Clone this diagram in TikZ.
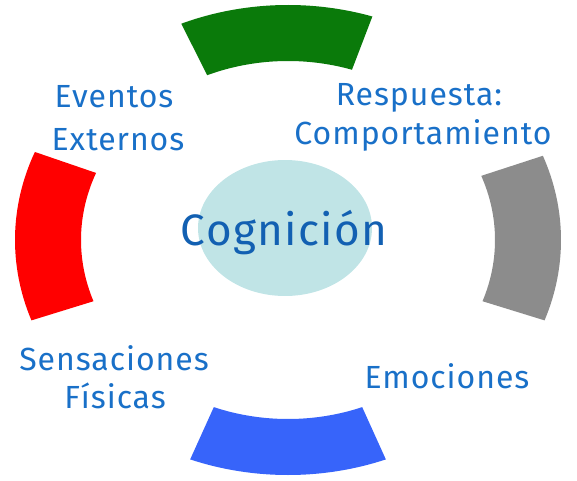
\documentclass[tikz,border=0pt]{standalone}
\usepackage{fontspec}
\setmainfont{Fira Sans}
\newfontfamily\lblfont[LetterSpace=3]{Fira Sans}
\usetikzlibrary{calc,shapes.geometric}
\definecolor{txtblue}{RGB}{25,112,200}
\definecolor{cogblue}{RGB}{18,96,178}
\definecolor{segred}{RGB}{255,0,0}
\definecolor{seggreen}{RGB}{10,122,10}
\definecolor{seggray}{RGB}{140,140,140}
\definecolor{segblue}{RGB}{55,100,250}
\definecolor{cogfill}{RGB}{192,228,230}
\tikzset{
  lbl/.style={text=txtblue, font=\lblfont\fontsize{32}{36}\selectfont, inner sep=0pt, anchor=base},
}
\newcommand{\ringseg}[3]{%
  \fill[#1] ($(C)+(#2:273pt and 235pt)$) arc[start angle=#2, end angle=#3, x radius=273pt, y radius=235pt]
    -- ($(C)+(#3:207pt and 179pt)$) arc[start angle=#3, end angle=#2, x radius=207pt, y radius=179pt] -- cycle;}
\begin{document}
\begin{tikzpicture}[x=1pt,y=1pt]
\useasboundingbox (0,0) rectangle (577,480);
\coordinate (C) at (288,240);
\ringseg{seggreen}{72}{113}
\ringseg{seggray}{-20}{21}
\ringseg{segred}{158}{200}
\ringseg{segblue}{249}{291}
\node[ellipse, fill=cogfill, minimum width=174pt, minimum height=136pt, inner sep=0pt] (cog) at (285,252) {};
\node[text=cogblue, font=\lblfont\fontsize{44}{50}\selectfont, inner sep=0pt, anchor=base] (cogt) at (284,235) {Cognición};
\node[lbl] (ev1) at (114,372) {Eventos};
\node[lbl] (ev2) at (118,330) {Externos};
\node[lbl] (re1) at (419,374) {Respuesta:};
\node[lbl] (re2) at (423,335) {Comportamiento};
\node[lbl] (se1) at (114,110) {Sensaciones};
\node[lbl] (se2) at (115,72) {Físicas};
\node[lbl] (em) at (447,92) {Emociones};
\end{tikzpicture}
\end{document}
